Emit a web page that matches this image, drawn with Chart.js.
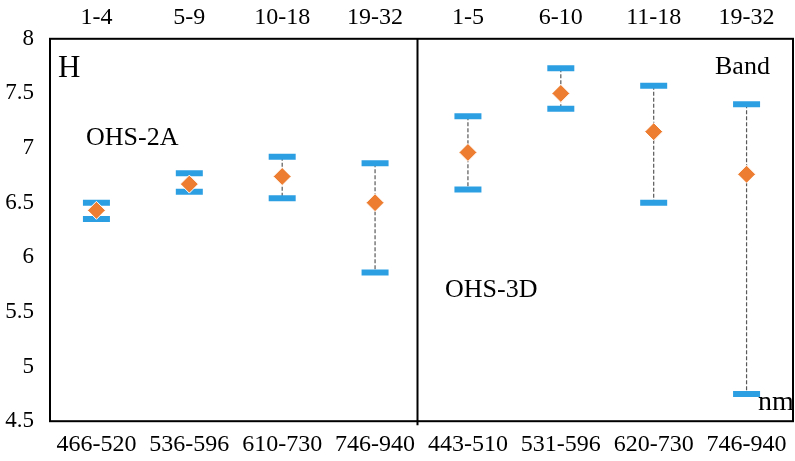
<!DOCTYPE html>
<html>
<head>
<meta charset="utf-8">
<script src="https://cdn.jsdelivr.net/npm/chart.js@4/dist/chart.umd.min.js"></script>
<style>
  html, body { margin: 0; padding: 0; background: #fff; }
  #wrap { width: 795px; height: 461px; }
</style>
</head>
<body>
<div id="wrap"><canvas id="c"></canvas></div>
<script>
// wavelength ranges (bottom) and band numbers (top)
const wavelengths = ['466-520', '536-596', '610-730', '746-940', '443-510', '531-596', '620-730', '746-940'];
const bands = ['1-4', '5-9', '10-18', '19-32', '1-5', '6-10', '11-18', '19-32'];

// H values per group
const highs = [6.50, 6.77, 6.92, 6.86, 7.29, 7.73, 7.57, 7.40];
const lows  = [6.35, 6.60, 6.54, 5.86, 6.62, 7.36, 6.50, 4.75];
const means = [6.43, 6.67, 6.74, 6.50, 6.96, 7.50, 7.15, 6.76];

const FONT = '"Liberation Serif", "Times New Roman", serif';

// dashed whiskers + frame + divider + free text
const decor = {
  id: 'decor',
  beforeDatasetsDraw(chart) {
    const ctx = chart.ctx;
    const x = chart.scales.x, y = chart.scales.y;
    ctx.save();
    ctx.strokeStyle = '#595959';
    ctx.lineWidth = 1.2;
    ctx.setLineDash([4, 2]);
    highs.forEach((h, i) => {
      const px = x.getPixelForValue(i);
      ctx.beginPath();
      ctx.moveTo(px, y.getPixelForValue(h));
      ctx.lineTo(px, y.getPixelForValue(lows[i]));
      ctx.stroke();
    });
    ctx.restore();
  },
  afterDraw(chart) {
    const ctx = chart.ctx;
    const a = chart.chartArea;
    const x = chart.scales.x;
    ctx.save();
    ctx.strokeStyle = '#000';
    ctx.lineWidth = 2;
    ctx.strokeRect(a.left, a.top, a.right - a.left, a.bottom - a.top);
    const dx = x.getPixelForValue(3.5) - 4;
    ctx.beginPath();
    ctx.moveTo(dx, a.top);
    ctx.lineTo(dx, a.bottom + 4);
    ctx.stroke();

    ctx.fillStyle = '#000';
    ctx.textBaseline = 'middle';
    ctx.font = '31px ' + FONT;
    ctx.fillText('H', a.left + 8, 69);
    ctx.font = '26px ' + FONT;
    ctx.fillText('OHS-2A', 86, 138);
    ctx.fillText('OHS-3D', 445, 290);
    ctx.fillText('Band', 715, 67);
    ctx.font = '28px ' + FONT;
    ctx.fillText('nm', 758, 403);
    ctx.restore();
  }
};

const noSidePad = scale => { scale.paddingLeft = 0; scale.paddingRight = 0; };

new Chart(document.getElementById('c'), {
  type: 'line',
  data: {
    labels: wavelengths,
    datasets: [
      {
        label: 'High',
        data: highs,
        showLine: false,
        pointStyle: 'line',
        pointRadius: 13.5,
        pointHoverRadius: 13.5,
        pointBorderWidth: 6,
        pointBorderColor: '#2C9FE3',
        borderColor: '#2C9FE3',
        order: 2
      },
      {
        label: 'Low',
        data: lows,
        showLine: false,
        pointStyle: 'line',
        pointRadius: 13.5,
        pointHoverRadius: 13.5,
        pointBorderWidth: 6,
        pointBorderColor: '#2C9FE3',
        borderColor: '#2C9FE3',
        order: 2
      },
      {
        label: 'Mean',
        data: means,
        showLine: false,
        pointStyle: 'rectRot',
        pointRadius: 9,
        pointHoverRadius: 9,
        pointBackgroundColor: '#ED7D31',
        pointBorderColor: '#ffffff',
        pointBorderWidth: 1,
        order: 1
      }
    ]
  },
  options: {
    responsive: true,
    maintainAspectRatio: false,
    animation: false,
    layout: { autoPadding: false, padding: { left: 4, right: 2, top: -4, bottom: -7 } },
    plugins: {
      legend: { display: false },
      tooltip: { enabled: false }
    },
    scales: {
      x: {
        type: 'category',
        position: 'bottom',
        offset: true,
        afterFit: noSidePad,
        grid: { display: false, drawTicks: false, offset: true },
        border: { display: false },
        ticks: { color: '#000', font: { family: FONT, size: 24 }, padding: 9, maxRotation: 0, autoSkip: false }
      },
      x2: {
        type: 'category',
        position: 'top',
        labels: bands,
        offset: true,
        afterFit: noSidePad,
        grid: { display: false, drawTicks: false, offset: true },
        border: { display: false },
        ticks: { color: '#000', font: { family: FONT, size: 24 }, padding: 7, maxRotation: 0, autoSkip: false }
      },
      y: {
        min: 4.5,
        max: 8,
        grid: { display: false, drawTicks: false },
        border: { display: false },
        afterFit: scale => { scale.width = 46; },
        ticks: {
          stepSize: 0.5,
          color: '#000',
          font: { family: FONT, size: 23 },
          padding: 16,
          callback: v => String(v)
        }
      }
    }
  },
  plugins: [decor]
});
</script>
</body>
</html>
